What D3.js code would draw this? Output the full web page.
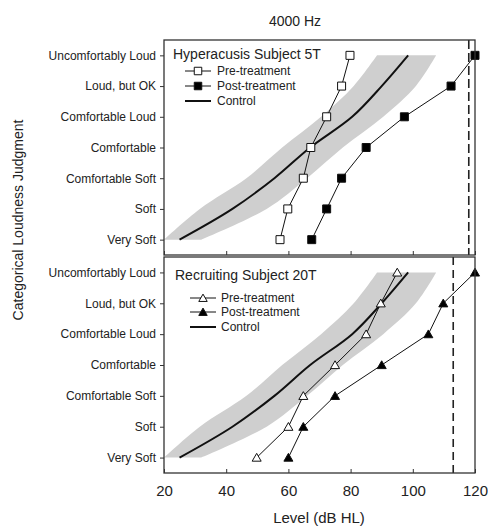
<!DOCTYPE html>
<html>
<head>
<meta charset="utf-8">
<script src="https://cdn.jsdelivr.net/npm/d3@7"></script>
<style>
  html, body { margin: 0; padding: 0; background: #fff; }
  svg { display: block; }
  text { font-family: "Liberation Sans", Arial, sans-serif; fill: #222; }
</style>
</head>
<body>
<svg id="chart" width="488" height="526"></svg>
<script>
// ---- data ----
const categories = ["Very Soft", "Soft", "Comfortable Soft", "Comfortable", "Comfortable Loud", "Loud, but OK", "Uncomfortably Loud"];
const xTicks = [20, 40, 60, 80, 100, 120];

const controlMean = [25, 42, 55.5, 67, 80.5, 90, 98.5];
const controlLow  = [20, 31.5, 46.5, 58, 70.5, 81, 88.5];
const controlHigh = [32, 53, 66, 77.5, 90.5, 101, 107.5];

const hyperPre  = [57.3, 59.8, 64.8, 67.2, 72.3, 77.1, 79.8];
const hyperPost = [67.5, 72.3, 77.1, 85, 97.3, 112.3, 120];
const hyperUCL  = 118;

const recruitPre  = [49.8, 60, 64.8, 75, 85, 89.7, 95];
const recruitPost = [60, 64.8, 75, 90, 105, 109.8, 120];
const recruitUCL  = 113;

const panels = [
  { title: "Hyperacusis Subject 5T", pre: hyperPre, post: hyperPost, ucl: hyperUCL,
    marker: "square", top: 40, bottom: 255, dash: "9,4",
    legend: { x: 173, titleY: 59, rows: [71, 86, 101], lx0: 185, lx1: 211, tx: 217 } },
  { title: "Recruiting Subject 20T", pre: recruitPre, post: recruitPost, ucl: recruitUCL,
    marker: "triangle", top: 257, bottom: 473, dash: "8,5",
    legend: { x: 175, titleY: 280, rows: [298, 312, 327], lx0: 190, lx1: 216, tx: 221 } }
];

// ---- layout ----
const svg = d3.select("#chart");
const left = 164, right = 475;
const x = d3.scaleLinear().domain([20, 120]).range([left, right]);

svg.append("text").attr("x", 295).attr("y", 26).attr("text-anchor", "middle")
  .attr("font-size", 14).text("4000 Hz");

svg.append("text")
  .attr("transform", "translate(23,220) rotate(-90)")
  .attr("text-anchor", "middle").attr("font-size", 14)
  .text("Categorical Loudness Judgment");

svg.append("text").attr("x", 319).attr("y", 523).attr("text-anchor", "middle")
  .attr("font-size", 15).text("Level (dB HL)");

const defs = svg.append("defs");

function markerPath(type, size) {
  if (type === "square") {
    return d3.symbol().type(d3.symbolSquare).size(size * size)();
  }
  return d3.symbol().type(d3.symbolTriangle).size(size * size * 0.55)();
}

panels.forEach((p, pi) => {
  const y = d3.scaleLinear().domain([-0.5, 6.5]).range([p.bottom, p.top]);
  const g = svg.append("g");

  const clipId = "clip" + pi;
  defs.append("clipPath").attr("id", clipId)
    .append("rect").attr("x", left).attr("y", p.top)
    .attr("width", right - left).attr("height", p.bottom - p.top);

  const plot = g.append("g").attr("clip-path", `url(#${clipId})`);

  // control band
  const band = d3.area()
    .y((d, i) => y(i))
    .x0((d, i) => x(controlLow[i]))
    .x1((d, i) => x(controlHigh[i]))
    .curve(d3.curveCatmullRom.alpha(0.5));
  plot.append("path").datum(categories).attr("d", band)
    .attr("fill", "#cfcfcf").attr("stroke", "none");

  // control mean
  const cLine = d3.line().x(d => x(d)).y((d, i) => y(i)).curve(d3.curveCatmullRom.alpha(0.5));
  plot.append("path").datum(controlMean).attr("d", cLine)
    .attr("fill", "none").attr("stroke", "#111").attr("stroke-width", 2);

  // UCL dashed
  g.append("line").attr("x1", x(p.ucl)).attr("x2", x(p.ucl))
    .attr("y1", p.top).attr("y2", p.bottom)
    .attr("stroke", "#222").attr("stroke-width", 1.6).attr("stroke-dasharray", p.dash);

  const dLine = d3.line().x(d => x(d)).y((d, i) => y(i));
  [[p.pre, "#fff"], [p.post, "#000"]].forEach(([vals, fill]) => {
    g.append("path").datum(vals).attr("d", dLine)
      .attr("fill", "none").attr("stroke", "#111").attr("stroke-width", 1);
    g.selectAll(null).data(vals).enter().append("path")
      .attr("d", markerPath(p.marker, 8))
      .attr("transform", (d, i) => `translate(${x(d)},${y(i) + (p.marker === "triangle" ? 1 : 0)})`)
      .attr("fill", fill).attr("stroke", "#111").attr("stroke-width", 1);
  });

  // frame
  g.append("rect").attr("x", left).attr("y", p.top)
    .attr("width", right - left).attr("height", p.bottom - p.top)
    .attr("fill", "none").attr("stroke", "#333").attr("stroke-width", 1.3);

  // y axis
  const yAxis = d3.axisLeft(y).tickValues(d3.range(categories.length))
    .tickFormat(i => categories[i]).tickSize(4).tickPadding(4);
  const ya = g.append("g").attr("transform", `translate(${left},0)`).call(yAxis);
  ya.select(".domain").remove();
  ya.selectAll("line").attr("stroke", "#333");
  ya.selectAll("text").attr("font-size", 12).attr("fill", "#222")
    .attr("font-family", '"Liberation Sans", Arial, sans-serif');

  // x axis (inner ticks)
  const xAxis = d3.axisTop(x).tickValues(xTicks).tickSize(4).tickFormat("");
  const xa = g.append("g").attr("transform", `translate(0,${p.bottom})`).call(xAxis);
  xa.select(".domain").remove();
  xa.selectAll("line").attr("stroke", "#333");

  // legend
  const L = p.legend;
  g.append("text").attr("x", L.x).attr("y", L.titleY).attr("font-size", 14).text(p.title);
  const items = [["Pre-treatment", "#fff", true], ["Post-treatment", "#000", true], ["Control", null, false]];
  items.forEach(([label, fill, hasMarker], k) => {
    const ry = L.rows[k];
    g.append("line").attr("x1", L.lx0).attr("x2", L.lx1).attr("y1", ry).attr("y2", ry)
      .attr("stroke", "#111").attr("stroke-width", hasMarker ? 1 : 2);
    if (hasMarker) {
      g.append("path").attr("d", markerPath(p.marker, 7.5))
        .attr("transform", `translate(${(L.lx0 + L.lx1) / 2},${ry + (p.marker === "triangle" ? 1 : 0)})`)
        .attr("fill", fill).attr("stroke", "#111").attr("stroke-width", 1);
    }
    g.append("text").attr("x", L.tx).attr("y", ry + 4).attr("font-size", 12).text(label);
  });
});

// bottom x tick labels
const xl = svg.append("g").attr("transform", `translate(0,473)`)
  .call(d3.axisBottom(x).tickValues(xTicks).tickSize(0).tickPadding(12));
xl.select(".domain").remove();
xl.selectAll("text").attr("font-size", 15).attr("fill", "#222")
  .attr("font-family", '"Liberation Sans", Arial, sans-serif');
</script>
</body>
</html>
